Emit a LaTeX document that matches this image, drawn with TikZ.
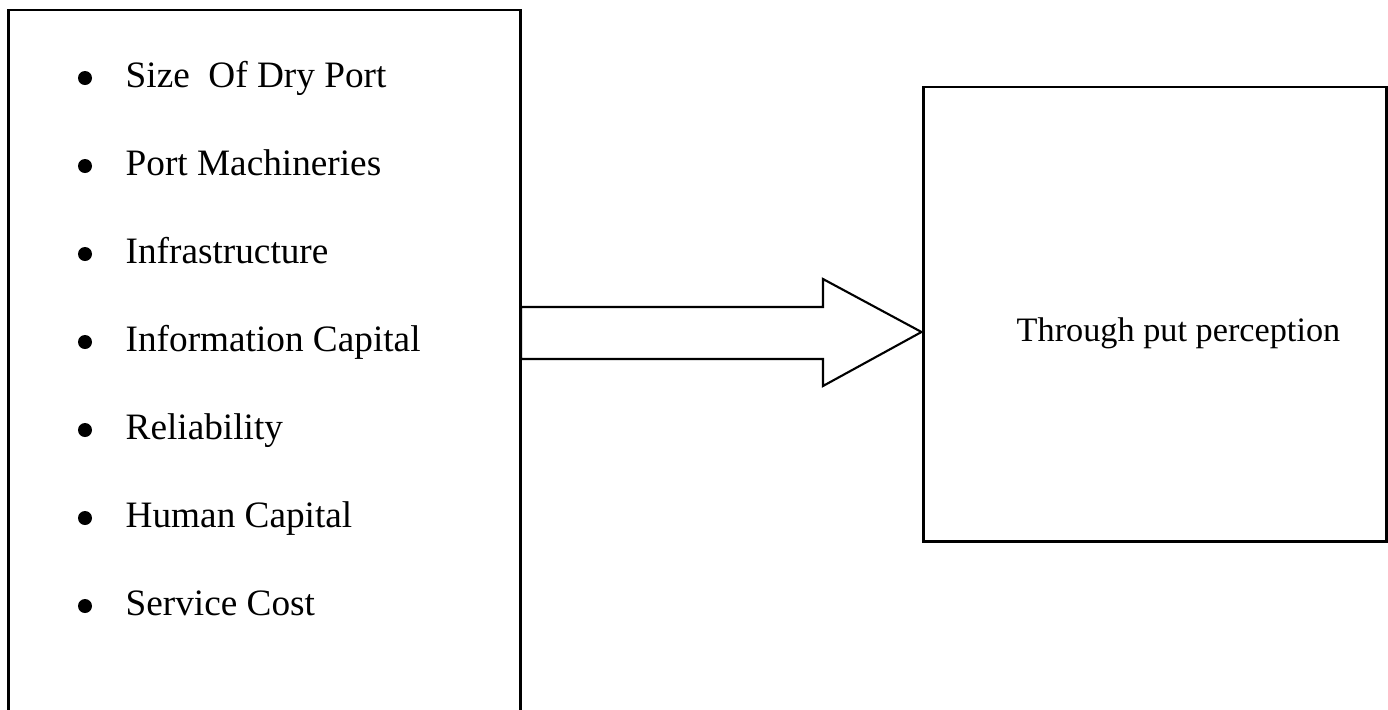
\documentclass[tikz,border=0pt]{standalone}
\usepackage{fontspec}
\setmainfont{Liberation Serif}
\begin{document}
\begin{tikzpicture}[
    every node/.style={align=left},
    frame/.style={draw, line width=0.85pt},
    item/.style={anchor=base west, inner sep=0pt, font=\fontsize{10.6}{12}\selectfont},
    bullet dot/.style={circle, fill, inner sep=0pt, minimum size=1.4mm},
    block arrow/.style={draw, line width=0.6pt, fill=white, line join=miter},
    ]
\useasboundingbox (0,0) rectangle (13.88,7.09);
% factor box, runs off the bottom of the page
\draw[frame] (0.085,-0.2) -- (0.085,6.99) -- (5.205,6.99) -- (5.205,-0.2);
\node[item] (size) at (1.25,6.22) {Size\ \ Of Dry Port};
\node[item] (machinery) at (1.25,5.34) {Port Machineries};
\node[item] (infra) at (1.25,4.46) {Infrastructure};
\node[item] (info) at (1.25,3.58) {Information Capital};
\node[item] (reliab) at (1.25,2.70) {Reliability};
\node[item] (human) at (1.25,1.82) {Human Capital};
\node[item] (cost) at (1.25,0.94) {Service Cost};
\node[bullet dot] (sizeB) at (0.85,6.31) {};
\node[bullet dot] (machineryB) at (0.85,5.43) {};
\node[bullet dot] (infraB) at (0.85,4.55) {};
\node[bullet dot] (infoB) at (0.85,3.67) {};
\node[bullet dot] (reliabB) at (0.85,2.79) {};
\node[bullet dot] (humanB) at (0.85,1.91) {};
\node[bullet dot] (costB) at (0.85,1.03) {};
% outcome box
\node[frame, minimum width=4.63cm, minimum height=4.54cm, inner sep=0pt] (outcome) at (11.545,3.95) {};
\node[item, font=\fontsize{9.75}{11}\selectfont] (perception) at (10.16,3.68) {Through put perception};
% block arrow
\coordinate (tip) at (outcome.west |- 0,3.77);
\draw[block arrow] (5.21,4.02) -- (8.23,4.02) -- (8.23,4.30) -- (tip)
    -- (8.23,3.23) -- (8.23,3.50) -- (5.21,3.50) -- cycle;
\end{tikzpicture}
\end{document}
